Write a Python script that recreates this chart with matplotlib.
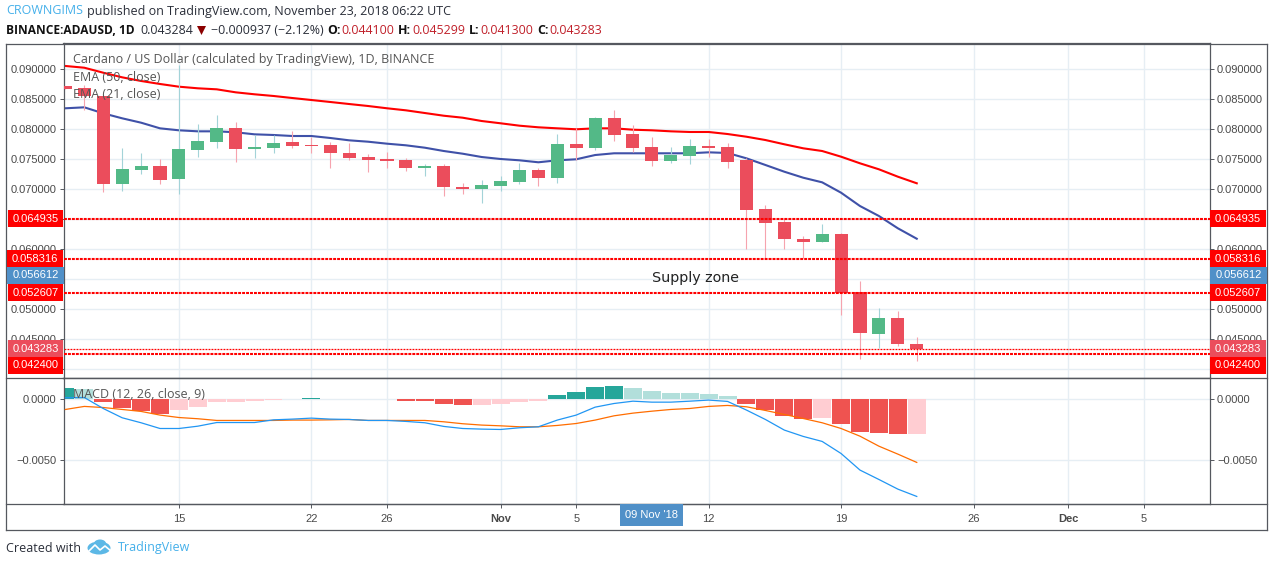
import matplotlib
matplotlib.use("Agg")
import matplotlib.pyplot as plt
import numpy as np
from matplotlib.lines import Line2D
from matplotlib.patches import Rectangle, Polygon, Ellipse

# days counted from 15 Oct 2018
days = np.arange(-6, 40)

opens = [.0871, .08675, .0854, .0708, .0731, .07375, .07158, .07642, .07775, .08008, .07658, .07675,
         .07775, .07725, .07725, .07592, .07525, .07492, .07475, .07342, .07375, .07025, .06992, .07042,
         .07108, .07308, .07175, .07742, .07675, .08175, .07908, .07692, .07458, .07542, .07708, .07692,
         .07475, .06658, .06442, .06158, .06108, .06242, .05275, .04575, .04842, .0441]
highs = [.0871, .08725, .0854, .0768, .07597, .07497, .09058, .08075, .08225, .08108, .07892, .07892,
         .07958, .07858, .07775, .07758, .07575, .07608, .07508, .07408, .07408, .07092, .07142, .07208,
         .07425, .07342, .07908, .08008, .08192, .08308, .08058, .07858, .07692, .07825, .07825, .07758,
         .07508, .06725, .06508, .06208, .06408, .06258, .05458, .05008, .04958, .0453]
lows = [.0866, .08308, .06947, .06963, .07242, .07075, .06908, .07525, .07675, .07442, .07508, .07592,
        .0768, .07592, .07342, .07475, .07275, .07342, .07292, .07208, .06875, .06908, .06758, .06958,
        .07075, .07042, .07092, .07475, .07642, .07792, .07608, .07375, .07425, .07408, .07525, .07342,
        .05992, .05842, .05992, .05842, .06108, .04892, .04158, .04342, .04375, .0413]
closes = [.0866, .08542, .0708, .07325, .07375, .07142, .07658, .07792, .08008, .07658, .07692, .07758,
          .07708, .07708, .07592, .07508, .07475, .07458, .07342, .07375, .07025, .06992, .07058, .07125,
          .07308, .07175, .07742, .07675, .08175, .07892, .07675, .07458, .07558, .07708, .07675, .07442,
          .06642, .06425, .06158, .06108, .06242, .05258, .04592, .04842, .04408, .04328]

ema50 = [.09042, .09013, .0893, .08853, .08792, .08742, .08697, .0867, .08653, .08603, .0857, .08542,
         .08508, .08475, .08442, .08408, .08375, .08337, .08303, .08258, .08213, .0818, .08125, .08087,
         .08047, .0802, .08003, .07987, .08003, .08003, .0798, .0797, .07953, .07942, .07942, .07908,
         .07863, .07808, .07737, .0767, .07625, .0753, .0742, .0732, .07197, .07087]
ema21 = [.08337, .08353, .08253, .0817, .08097, .08003, .0797, .07953, .07953, .07937, .07903, .07892,
         .07875, .07875, .07842, .07803, .0778, .07747, .0772, .0768, .07625, .0758, .07525, .07492,
         .0747, .07437, .0747, .07487, .07558, .07587, .07587, .07587, .07587, .07587, .07603, .07592,
         .07503, .07392, .0728, .0718, .07103, .0693, .06708, .06542, .06337, .06163]

hist = [.00096, .00085, -.00022, -.00074, -.00096, -.0012, -.00087, -.00063, -.00022, -.00021, -.00011, -.00002,
        .00005, .00011, .00005, 0, 0, 0, -.00011, -.00012, -.00038, -.00046, -.00045, -.00038,
        -.00022, -.00011, .00036, .0006, .00104, .00109, .00093, .00068, .00052, .00051, .00044, .00027,
        -.00038, -.00087, -.00137, -.00161, -.00153, -.00202, -.00268, -.00276, -.00285, -.00284]
macd = [.00014, .00016, -.00074, -.0015, -.00191, -.00238, -.00238, -.00219, -.00189, -.00189, -.00189, -.00167,
        -.00161, -.00153, -.00161, -.00164, -.00172, -.00172, -.0018, -.00191, -.00221, -.00238, -.00243, -.00246,
        -.00232, -.00224, -.00169, -.00128, -.00063, -.00033, -.00014, -.00022, -.00022, -.00014, -.00005, -.00016,
        -.00087, -.00164, -.00251, -.00303, -.00344, -.00443, -.00579, -.00656, -.00735, -.00795]
signal = [-.00082, -.00057, -.00066, -.00082, -.00098, -.00128, -.00148, -.00158, -.00172, -.00172, -.00172, -.00172,
          -.00169, -.00169, -.00167, -.00164, -.00172, -.00172, -.00172, -.00172, -.00183, -.00199, -.0021, -.00216,
          -.00224, -.00224, -.00213, -.00197, -.00169, -.00134, -.00112, -.00096, -.00082, -.00074, -.00057, -.00049,
          -.0006, -.0009, -.00123, -.00156, -.00191, -.00238, -.00301, -.00383, -.00448, -.00516]

dashed_levels = [.064935, .058316, .052607, .0424]
last_close = .043283
price_ticks = [.09, .085, .08, .075, .07, .065, .06, .055, .05, .045, .04]
# 0.065, 0.055 and 0.04 sit fully behind the price boxes, so they show no label
price_labels = ['0.090000', '0.085000', '0.080000', '0.075000', '0.070000', '', '0.060000', '', '0.050000', '0.045000', '']
macd_ticks = [0, -.005]
date_ticks = [0, 7, 11, 17, 21, 28, 35, 42, 47, 51]
date_labels = ['15', '22', '26', 'Nov', '5', '12', '19', '26', 'Dec', '5']

W, H = 1274, 566
GRID = '#e6eef4'
FRAME = '#55585f'
SANS = 'Liberation Sans'
UI = 'Open Sans'


def fx(x):
    return x / W


def fy(y):
    return 1 - y / H


fig = plt.figure(figsize=(W / 100, H / 100), dpi=100, facecolor='white')
ax = fig.add_axes([fx(63.5), fy(378), (1210 - 63.5) / W, (378 - 43) / H])
ax2 = fig.add_axes([fx(63.5), fy(504), (1210 - 63.5) / W, (504 - 378) / H], sharex=ax)

ax.set_xlim(-6.1, 54.5)
ax.set_ylim(.03842, .09425)
ax2.set_ylim(-.00857, .00176)

for a in (ax, ax2):
    a.set_axisbelow(True)
    a.grid(True, color=GRID, lw=1.0)
    for s in a.spines.values():
        s.set_color(FRAME)
        s.set_linewidth(0.9)

ax.set_yticks(price_ticks)
ax.set_yticklabels(price_labels)
ax2.set_yticks(macd_ticks)
ax2.set_yticklabels(['0.0000', '\u22120.0050'])
ax2.set_xticks(date_ticks)
ax2.set_xticklabels(date_labels)
ax.tick_params(axis='x', length=0, labelbottom=False)
for a in (ax, ax2):
    a.tick_params(axis='y', left=True, right=True, labelleft=True, labelright=True, length=3, width=0.7,
                  color=FRAME, labelcolor='#4a4a4a', labelsize=8, pad=2)
ax2.tick_params(axis='x', length=3, width=0.7, color=FRAME, labelcolor='#4a4a4a', labelsize=8, pad=4.5)
for lab in ax.get_yticklabels() + ax2.get_yticklabels() + ax2.get_xticklabels():
    lab.set_family(SANS)
for lab in ax2.get_xticklabels():
    if lab.get_text() in ('Nov', 'Dec'):
        lab.set_fontweight('bold')

# emas sit under the candles
ax.plot(days, ema50, color='#ff0000', lw=1.5, zorder=2)
ax.plot(days, ema21, color='#3f51a8', lw=1.5, zorder=2)

opens = np.array(opens)
closes = np.array(closes)
up = closes >= opens
body_col = np.where(up, '#53b987', '#eb4d5c')
wick_col = np.where(up, '#a3d3d8', '#f6a3ae')
ax.vlines(days, lows, highs, colors=wick_col, lw=0.8, zorder=3)
ax.bar(days, np.abs(closes - opens), bottom=np.minimum(opens, closes), width=0.69, color=body_col, lw=0, zorder=4)

for lev in dashed_levels:
    ax.axhline(lev, color='#ff0000', lw=1.5, ls=(0, (1.4, 0.5)), zorder=5)
ax.axhline(last_close, color='#ff0000', lw=0.9, ls=(0, (1.5, 0.9)), zorder=5)

ax.text(0.513, 0.298, 'Supply zone', transform=ax.transAxes, fontsize=10.3, family='DejaVu Sans', color='#222222',
        va='center', zorder=6)

# macd pane
hist = np.array(hist)
rising = np.r_[True, np.diff(hist) > 0]
hist_col = []
for v, r in zip(hist, rising):
    if v >= 0:
        hist_col.append('#26a69a' if r else '#b2dfdb')
    else:
        hist_col.append('#ffcdd2' if r else '#ef5350')
ax2.bar(days, hist, width=0.95, color=hist_col, lw=0, zorder=2)
ax2.plot(days, signal, color='#ff6d00', lw=0.9, zorder=3)
ax2.plot(days, macd, color='#2196f3', lw=0.9, zorder=4)

# legends in the panes
leg_col = '#555555'
fig.text(fx(73), fy(60), 'Cardano / US Dollar (calculated by TradingView), 1D, BINANCE', family=UI, fontsize=9.03,
         color=leg_col, va='center')
fig.text(fx(73), fy(77.5), 'EMA (50, close)', family=UI, fontsize=9.03, color=leg_col, va='center')
fig.text(fx(73), fy(94.5), 'EMA (21, close)', family=UI, fontsize=9.03, color=leg_col, va='center')
fig.text(fx(73), fy(395), 'MACD (12, 26, close, 9)', family=UI, fontsize=9.03, color=leg_col, va='center')

# outer frame
for x0, y0, x1, y1 in [(6.5, 43.5, 1267, 43.5), (6.5, 530, 1267, 530), (6.5, 43.5, 6.5, 530), (1267, 43.5, 1267, 530),
                       (6.5, 378, 1267, 378), (6.5, 504, 1267, 504)]:
    fig.add_artist(Line2D([fx(x0), fx(x1)], [fy(y0), fy(y1)], color=FRAME, lw=0.9))


def price_box(text, yc, col, x0=8, x1=63, rx0=1210, rx1=1266):
    for a, b in ((x0, x1), (rx0, rx1)):
        fig.add_artist(Rectangle((fx(a), fy(yc + 8.5)), (b - a) / W, 17 / H, transform=fig.transFigure,
                                 facecolor=col, edgecolor='none', zorder=2))
        fig.text(fx((a + b) / 2), fy(yc), text, family=SANS, fontsize=8, color='white', ha='center', va='center',
                 zorder=4)


price_box('0.064935', 218.5, '#ff0000')
price_box('0.058316', 258.5, '#ff0000', x0=7)
price_box('0.056612', 275, '#5090c8', x0=7, x1=64, rx1=1267)
price_box('0.052607', 292.5, '#ff0000')
price_box('0.043283', 348.5, '#eb4d5c')
price_box('0.042400', 365, '#ff0000')

# crosshair date
fig.add_artist(Rectangle((fx(620), fy(526)), 63 / W, 22 / H, transform=fig.transFigure, facecolor='#5090c8',
                         edgecolor='none', zorder=2))
fig.text(fx(651.5), fy(515), "09 Nov '18", family=SANS, fontsize=8, color='white', ha='center', va='center', zorder=4)

# header
blue = '#45b0ea'
dark = '#2a2e39'
red = '#c0202a'
fig.text(fx(6), fy(11), 'CROWNGIMS', family=UI, fontsize=9, color=blue, va='center')
fig.text(fx(87), fy(11), 'published on TradingView.com, November 23, 2018 06:22 UTC', family=UI, fontsize=9, color=dark,
         va='center')
fig.text(fx(6), fy(30), 'BINANCE:ADAUSD, 1D', family=UI, fontsize=8.6, weight='bold', color='#111111', va='center')
fig.text(fx(140), fy(30), '0.043284', family=UI, fontsize=8.9, color=dark, va='center')
fig.add_artist(Polygon([[fx(197), fy(26)], [fx(206), fy(26)], [fx(201.5), fy(35)]], closed=True, transform=fig.transFigure,
                       facecolor='#8b0000', edgecolor='none'))
fig.text(fx(211), fy(30), '\u22120.000937 (\u22122.12%)', family=UI, fontsize=8.9, color=dark, va='center')
for x, lab, xv, val in [(327, 'O:', 341, '0.044100'), (398, 'H:', 412, '0.045299'), (469, 'L:', 480, '0.041300'),
                        (537, 'C:', 549, '0.043283')]:
    fig.text(fx(x), fy(30), lab, family=UI, fontsize=8.9, weight='bold', color='#111111', va='center')
    fig.text(fx(xv), fy(30), val, family=UI, fontsize=8.9, color=red, va='center')

# footer with the little cloud logo
fig.text(fx(6), fy(548), 'Created with', family=UI, fontsize=9, color=dark, va='center')
fig.text(fx(118), fy(548), 'TradingView', family=UI, fontsize=9, color=blue, va='center')
logo = '#5cb8e6'
fig.add_artist(Ellipse((fx(99), fy(548)), 23 / W, 13 / H, transform=fig.transFigure, facecolor=logo, edgecolor='none'))
fig.add_artist(Ellipse((fx(100), fy(543.5)), 12 / W, 8 / H, transform=fig.transFigure, facecolor=logo, edgecolor='none'))
fig.add_artist(Line2D([fx(89), fx(95), fx(100), fx(105), fx(111)], [fy(551), fy(545), fy(550), fy(546), fy(551)],
                      color='white', lw=1.2))

fig.savefig('out.png', dpi=100, facecolor='white')
